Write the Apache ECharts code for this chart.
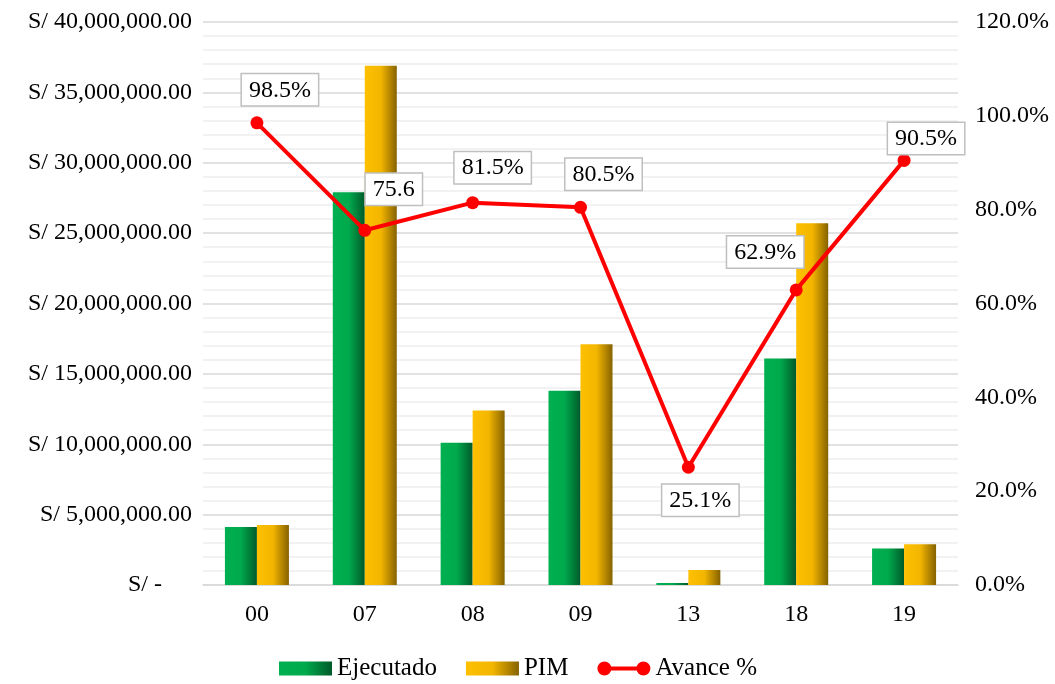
<!DOCTYPE html>
<html>
<head>
<meta charset="utf-8">
<script src="https://cdn.jsdelivr.net/npm/echarts@6/dist/echarts.min.js"></script>
<style>
  html, body { margin: 0; padding: 0; background: #fff; }
  #chart { width: 1055px; height: 684px; }
</style>
</head>
<body>
<div id="chart"></div>
<script>
var chartDom = document.getElementById('chart');
var myChart = echarts.init(chartDom);

// data
var categories = ['00', '07', '08', '09', '13', '18', '19'];
var ejecutado = [4120000, 27900000, 10100000, 13800000, 150000, 16100000, 2600000];
var pim = [4260000, 36900000, 12400000, 17100000, 1070000, 25700000, 2900000];
var avance = [98.5, 75.6, 81.5, 80.5, 25.1, 62.9, 90.5];
var avanceLabels = ['98.5%', '75.6', '81.5%', '80.5%', '25.1%', '62.9%', '90.5%'];

// where each callout sits relative to its point
var labelPlace = [
  { position: 'top', offset: [23, -11] },
  { position: 'top', offset: [29, -19] },
  { position: 'top', offset: [20, -13] },
  { position: 'top', offset: [23, -11] },
  { position: 'bottom', offset: [12, 11] },
  { position: 'top', offset: [-31, -16] },
  { position: 'top', offset: [22, 0] }
];

var font = 'Liberation Serif';

function grad(c1, c2, c3) {
  return new echarts.graphic.LinearGradient(0, 0, 1, 0, [
    { offset: 0, color: c1 },
    { offset: 0.5, color: c2 },
    { offset: 1, color: c3 }
  ]);
}

function money(v) {
  if (v === 0) return 'S/ -     ';
  return 'S/ ' + v.toLocaleString('en-US', { minimumFractionDigits: 2, maximumFractionDigits: 2 });
}

var lineData = avance.map(function (v, i) {
  return {
    value: v,
    label: {
      position: labelPlace[i].position,
      offset: labelPlace[i].offset,
      formatter: avanceLabels[i]
    }
  };
});

var option = {
  animation: false,
  textStyle: { fontFamily: font },
  grid: { left: 203, right: 97, top: 22, bottom: 99 },
  legend: {
    left: 274,
    top: 651,
    itemWidth: 53,
    itemHeight: 14,
    itemGap: 29,
    textStyle: { fontFamily: font, fontSize: 25, color: '#000' },
    data: [
      { name: 'Ejecutado', icon: 'rect' },
      { name: 'PIM', icon: 'rect' },
      {
        name: 'Avance %',
        icon: 'path://M0,7A7,7 0 1,1 14,7A7,7 0 1,1 0,7ZM39,7A7,7 0 1,1 53,7A7,7 0 1,1 39,7ZM7,5L46,5L46,9L7,9Z'
      }
    ]
  },
  xAxis: {
    type: 'category',
    data: categories,
    axisTick: { show: false },
    axisLine: { lineStyle: { color: '#d9d9d9', width: 1.5 } },
    axisLabel: { color: '#000', fontSize: 24, fontFamily: font, margin: 18 }
  },
  yAxis: [
    {
      type: 'value',
      min: 0,
      max: 40000000,
      interval: 5000000,
      axisLine: { show: false },
      axisTick: { show: false },
      axisLabel: { color: '#000', fontSize: 24, fontFamily: font, margin: 11, formatter: money },
      splitLine: { lineStyle: { color: '#d9d9d9', width: 1.5 } },
      minorTick: { show: false, splitNumber: 5 },
      minorSplitLine: { show: true, lineStyle: { color: '#eeeeee', width: 1.5 } }
    },
    {
      type: 'value',
      min: 0,
      max: 120,
      interval: 20,
      axisLine: { show: false },
      axisTick: { show: false },
      splitLine: { show: false },
      axisLabel: {
        color: '#000', fontSize: 24, fontFamily: font, margin: 17,
        formatter: function (v) { return v.toFixed(1) + '%'; }
      }
    }
  ],
  series: [
    {
      name: 'Ejecutado',
      type: 'bar',
      barWidth: 32,
      barGap: 0,
      itemStyle: { color: grad('#00B050', '#00A94c', '#005a2a') },
      data: ejecutado
    },
    {
      name: 'PIM',
      type: 'bar',
      barWidth: 32,
      barGap: 0,
      itemStyle: { color: grad('#FFC000', '#F3B600', '#866200') },
      data: pim
    },
    {
      name: 'Avance %',
      type: 'line',
      yAxisIndex: 1,
      z: 5,
      symbol: 'circle',
      symbolSize: 13,
      itemStyle: { color: '#FF0000' },
      lineStyle: { color: '#FF0000', width: 4 },
      label: {
        show: true,
        distance: 0,
        color: '#000',
        fontSize: 24,
        fontFamily: font,
        backgroundColor: '#fff',
        borderColor: '#bfbfbf',
        borderWidth: 1.5,
        padding: [4, 7, 3, 7]
      },
      data: lineData
    }
  ]
};

option && myChart.setOption(option);
</script>
</body>
</html>
